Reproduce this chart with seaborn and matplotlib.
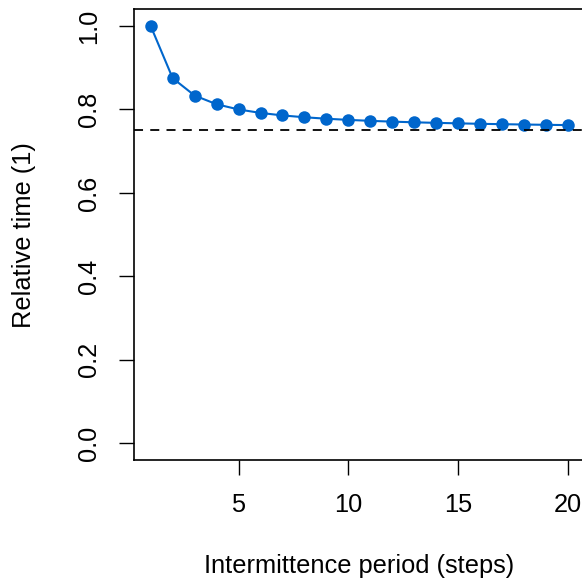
import matplotlib
matplotlib.use("Agg")
import matplotlib.pyplot as plt
import seaborn as sns
import pandas as pd

period = list(range(1, 21))
rel_time = [1.0, 0.875, 0.8333, 0.8125, 0.8, 0.7917, 0.7857, 0.7813, 0.7778, 0.775,
            0.7727, 0.7708, 0.7692, 0.7679, 0.7667, 0.7656, 0.7647, 0.7639, 0.7632, 0.7625]
baseline = 0.75
xticks = [5, 10, 15, 20]
yticks = [0.0, 0.2, 0.4, 0.6, 0.8, 1.0]

sns.set_theme(style="white")
plt.rcParams['font.family'] = ['Liberation Sans', 'DejaVu Sans']

df = pd.DataFrame({"period": period, "rel": rel_time})

fig = plt.figure(figsize=(5.82, 5.83), dpi=100)
W, H = 582, 583
left, right, top, bottom = 134, 584.7, 9.3, 460
ax = fig.add_axes([left / W, 1 - bottom / H, (right - left) / W, (bottom - top) / H])

color = "#0066CC"
sns.lineplot(data=df, x="period", y="rel", ax=ax, color=color, lw=1.5,
             marker="o", markersize=9, markeredgewidth=0, markerfacecolor=color)
ax.axhline(baseline, color="black", lw=1.3, ls=(0, (5, 4)))

ax.set_xlim(0.24, 20.76)
ax.set_ylim(-0.04, 1.04)
ax.set_xticks(xticks)
ax.set_xticklabels([str(t) for t in xticks])
ax.set_yticks(yticks)
ax.set_yticklabels([f"{t:.1f}" for t in yticks], rotation=90, va="center")

fs = 18.3
ax.tick_params(axis="both", which="major", direction="out", length=11, width=1,
               color="black", labelsize=fs, labelcolor="black", pad=13,
               bottom=True, left=True)
for s in ax.spines.values():
    s.set_color("black")
    s.set_linewidth(1.2)

ax.set_xlabel("Intermittence period (steps)", fontsize=fs, color="black", va="center")
ax.set_ylabel("Relative time (1)", fontsize=fs, color="black", va="center")
axw = right - left
axh = bottom - top
ax.xaxis.set_label_coords(0.5, (bottom - 566) / axh)
ax.yaxis.set_label_coords((24 - left) / axw, 0.5)

fig.savefig("out.png", dpi=100)
